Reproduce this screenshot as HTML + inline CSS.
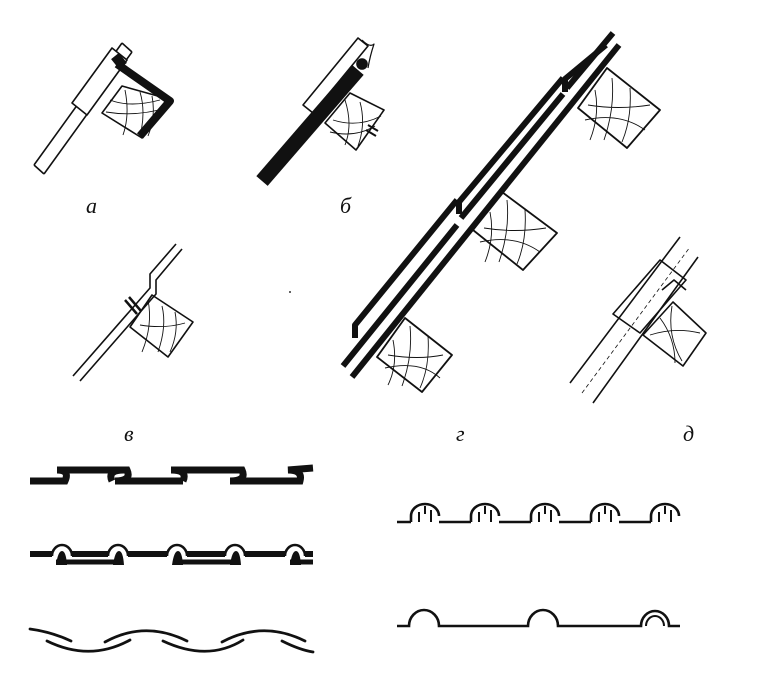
<!DOCTYPE html>
<html><head><meta charset="utf-8"><style>
html,body{margin:0;padding:0;background:#fff;}
svg{display:block}
text{font-family:"Liberation Serif",serif;font-style:italic;font-size:22px;fill:#111}
</style></head><body>
<svg width="762" height="679" viewBox="0 0 762 679" xmlns="http://www.w3.org/2000/svg">
<g fill="none" stroke="#111" stroke-width="1.6" stroke-linejoin="round">
<!-- Fig a -->
<polygon points="102,113 122,86 172,100 142,138" fill="#fff"/>
<path d="M110,100 q20,8 50,0 M106,112 q30,5 60,-4 M125,90 q5,25 -2,45 M140,92 q6,20 0,44 M152,96 q4,20 -4,40" stroke-width="0.9"/>
<path d="M34,165 L122,43 M44,174 L132,52 M34,165 l10,9 M122,43 l10,9"/>
<polygon points="72,103 112,48 127,60 87,115" fill="#fff"/>
<path d="M117,64 L170,101 L140,136" stroke-width="8"/>
<path d="M115,56 l8,10" stroke-width="10"/>
<!-- Fig б -->
<polygon points="325,123 350,93 384,110 356,150" fill="#fff"/>
<path d="M333,120 q25,8 48,-4 M330,132 q25,6 45,-6 M345,100 q8,25 0,45 M360,102 q6,22 -2,44" stroke-width="0.9"/>
<polygon points="303,105 358,38 368,46 313,113" fill="#fff"/>
<path d="M262,181 L358,70" stroke-width="15"/>
<circle cx="362" cy="64" r="5" fill="#111"/>
<path d="M362,40 q8,8 12,4 q-4,12 -6,24" stroke-width="1.2"/>
<path d="M368,125 l10,6 M366,130 l10,6" stroke-width="2"/>
<!-- Fig в -->
<polygon points="130,327 152,295 193,322 168,357" fill="#fff"/>
<path d="M140,325 q25,4 45,-2 M148,300 q5,25 -6,52 M162,306 q5,20 -4,46 M175,312 q4,20 -5,40" stroke-width="0.9"/>
<path d="M73,376 L150,288 L150,274 L176,244 M80,381 L156,294 L156,280 L182,249"/>
<path d="M125,300 l12,14 M129,297 l12,14" stroke-width="2.5"/>
<!-- Fig г battens -->
<g stroke-width="1.8">
<polygon points="578,108 607,68 660,110 627,148" fill="#fff"/>
<polygon points="473,230 502,192 557,233 523,270" fill="#fff"/>
<polygon points="377,357 405,318 452,355 422,392" fill="#fff"/>
</g>
<path d="M588,105 q30,5 62,0 M595,90 q5,25 -5,50 M612,78 q3,30 -8,62 M630,88 q2,30 -8,54 M585,120 q35,-8 60,10" stroke-width="0.9"/>
<path d="M484,228 q30,5 62,0 M490,212 q5,25 -5,50 M507,200 q3,30 -8,62 M525,210 q2,30 -8,54 M480,242 q35,-8 60,10" stroke-width="0.9"/>
<path d="M388,355 q30,5 55,0 M393,340 q5,25 -5,45 M410,326 q3,30 -8,60 M428,336 q2,30 -8,52 M385,368 q35,-8 55,10" stroke-width="0.9"/>
<!-- г boards -->
<path d="M343,366 L457,225 M461,218 L563,94 M567,88 L613,33" stroke-width="6"/>
<path d="M352,377 L619,45" stroke-width="6"/>
<path d="M355,338 V325 L457,200" stroke-width="6"/>
<path d="M459,214 V202 L563,78" stroke-width="6"/>
<path d="M565,92 V79 L606,45" stroke-width="6"/>
<!-- Fig д -->
<polygon points="643,335 673,302 706,333 683,366" fill="#fff"/>
<path d="M650,335 q25,-8 50,-2 M660,318 q15,20 15,45 M672,306 q-5,30 10,55" stroke-width="0.9"/>
<path d="M570,383 L680,237 M593,403 L698,257" />
<path d="M582,393 L690,247" stroke-width="0.8" stroke-dasharray="4,3"/>
<polygon points="613,314 660,260 686,280 640,333" fill="none"/>
<path d="M662,290 l12,-10 l12,10" />
</g>
<!-- labels -->
<text x="86" y="213">а</text>
<text x="340" y="213">б</text>
<text x="124" y="441">в</text>
<text x="456" y="441">г</text>
<text x="683" y="441">д</text>
<!-- bottom left strip 1 -->
<g fill="none" stroke="#111" stroke-width="7" stroke-linecap="butt">
<path d="M30,481 L65,481 q5,-11 -8,-11 L127,470 q5,11 -12,11 L183,481"/>
<path d="M112,481 q-5,-11 12,-11 M183,481 q5,-11 -12,-11 L242,470 q5,11 -12,11 L300,481 q3,-11 -12,-11 L313,468"/>
</g>
<!-- bottom left strip 2 -->
<g fill="none" stroke="#111">
<path d="M30,554 L52,554 M72,554 L108,554 M128,554 L167,554 M187,554 L225,554 M245,554 L285,554 M305,554 L313,554" stroke-width="6"/>
<path d="M52,556 a10,11 0 0 1 20,0 M108,556 a10,11 0 0 1 20,0 M167,556 a10,11 0 0 1 20,0 M225,556 a10,11 0 0 1 20,0 M285,556 a10,11 0 0 1 20,0" stroke-width="2.5"/>
<path d="M56,562 L118,562 M175,562 L236,562 M290,562 L313,562" stroke-width="5"/>
</g>
<g fill="#111">
<path d="M56,565 q2,-14 6,-14 q4,0 5,14z M113,565 q2,-14 6,-14 q4,0 5,14z M172,565 q2,-14 6,-14 q4,0 5,14z M230,565 q2,-14 6,-14 q4,0 5,14z M290,565 q2,-14 6,-14 q4,0 5,14z"/>
</g>
<!-- waves -->
<g fill="none" stroke="#111" stroke-width="2.8" stroke-linecap="round">
<path d="M30,629 Q52,632 71,641"/>
<path d="M47,641 Q90,662 130,640"/>
<path d="M105,642 Q145,620 187,641"/>
<path d="M163,641 Q208,662 243,640"/>
<path d="M222,642 Q263,620 305,641"/>
<path d="M282,641 Q300,650 313,652"/>
</g>
<!-- right strip 1 -->
<g fill="none" stroke="#111" stroke-width="2.6">
<path d="M397,522 L411,522 M439,522 L471,522 M499,522 L531,522 M559,522 L591,522 M619,522 L651,522"/>
<path d="M411,522 L411,516 a14,12 0 0 1 28,0 M471,522 L471,516 a14,12 0 0 1 28,0 M531,522 L531,516 a14,12 0 0 1 28,0 M591,522 L591,516 a14,12 0 0 1 28,0 M651,522 L651,516 a14,12 0 0 1 28,0"/>
<path d="M419,522 V512 M431,522 V510 M425,506 V514 M479,522 V512 M491,522 V510 M485,506 V514 M539,522 V512 M551,522 V510 M545,506 V514 M599,522 V512 M611,522 V510 M605,506 V514 M659,522 V512 M671,522 V510 M665,506 V514" stroke-width="2"/>
</g>
<!-- right strip 2 -->
<g fill="none" stroke="#111" stroke-width="2.6">
<path d="M397,626 L409,626 a15,16 0 0 1 30,0 L528,626 a15,16 0 0 1 30,0 L641,626 a14,15 0 0 1 28,0 L680,626"/>
<path d="M646,626 a9,10 0 0 1 18,0" stroke-width="2"/>
</g>
<circle cx="290" cy="292" r="1" fill="#333"/>
</svg>
</body></html>
